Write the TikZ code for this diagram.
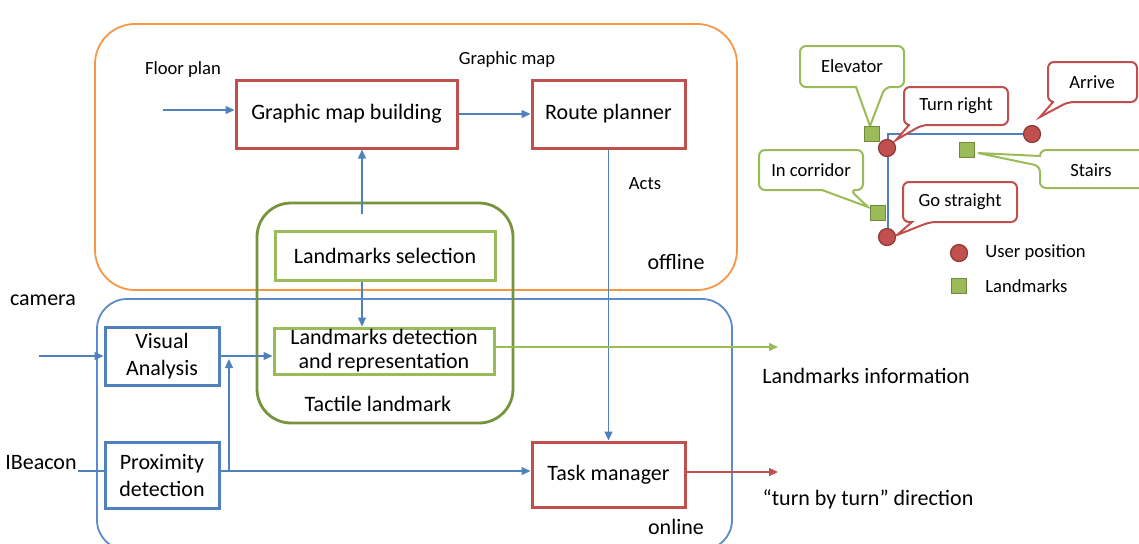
\documentclass[tikz,border=0pt]{standalone}
\usepackage{fontspec}
\setmainfont{Carlito}
\usetikzlibrary{arrows.meta}

\definecolor{cRed}{HTML}{C0504D}
\definecolor{cRedDark}{HTML}{8C3836}
\definecolor{cBlue}{HTML}{4F81BD}
\definecolor{cOuterBlue}{HTML}{5B8BC9}
\definecolor{cLGreen}{HTML}{9BBB59}
\definecolor{cGreenDark}{HTML}{71893F}
\definecolor{cDGreen}{HTML}{77933C}
\definecolor{cOrange}{HTML}{F79646}

\tikzset{
  box/.style={draw, line width=1.5pt, fill=white, align=center, inner sep=0pt,
              font=\fontsize{11}{13.5}\selectfont},
  redbox/.style={box, draw=cRed},
  bluebox/.style={box, draw=cBlue},
  grnbox/.style={box, draw=cLGreen},
  lbl/.style={inner sep=0pt, font=\fontsize{11}{13}\selectfont},
  small/.style={inner sep=0pt, font=\fontsize{9.3}{11}\selectfont},
  arr/.style={draw=cBlue, line width=0.7pt, -{Triangle[length=4.5pt,width=4pt]}},
  flow/.style={draw=cBlue, line width=0.7pt},
  callR/.style={draw=cRed, line width=1pt, fill=white},
  callG/.style={draw=cLGreen, line width=1pt, fill=white},
  usr/.style={circle, draw=cRedDark, fill=cRed, line width=0.6pt, minimum size=8.5pt, inner sep=0pt},
  lmk/.style={rectangle, draw=cGreenDark, fill=cLGreen, line width=0.6pt, minimum size=7.5pt, inner sep=0pt},
}

\begin{document}
\begin{tikzpicture}[x=0.5pt, y=-0.5pt]
\useasboundingbox (0,0) rectangle (1139,543);
\clip (0,0) rectangle (1139,543);

% ---- grouping frames ----
\draw[cOrange, line width=0.9pt, rounded corners=20pt] (95,24) rectangle (737,290);
\draw[cOuterBlue, line width=0.9pt, rounded corners=15pt] (97,299) rectangle (732,550);
\draw[cDGreen, line width=1.4pt, rounded corners=17pt] (257,203) rectangle (513,423);

% ---- process boxes ----
\node[redbox, minimum width=110.5pt, minimum height=34pt] (gmb) at (346.5,114) {Graphic map building};
\node[redbox, minimum width=76.5pt, minimum height=34pt] (rp) at (608.5,114) {Route planner};
\node[grnbox, minimum width=110pt, minimum height=24.5pt] (ls) at (385,256) {Landmarks selection};
\node[grnbox, minimum width=110pt, minimum height=23pt, font=\fontsize{11}{12}\selectfont] (det) at (384,351) {Landmarks detection\\and representation};
\node[bluebox, minimum width=57pt, minimum height=29pt] (va) at (162,356) {Visual\\Analysis};
\node[bluebox, minimum width=57pt, minimum height=33pt] (px) at (162,475) {Proximity\\detection};
\node[redbox, minimum width=76.5pt, minimum height=32.5pt] (tm) at (608.5,474.5) {Task manager};

% ---- labels ----
\node[small] (lfp) at (183,70) {Floor plan};
\node[small] (lgm) at (507,60) {Graphic map};
\node[small] (lacts) at (645,184) {Acts};
\node[lbl] (loff) at (676,262) {offline};
\node[lbl] (lon) at (676,527) {online};
\node[lbl] (ltac) at (378,404) {Tactile landmark};
\node[lbl] (lcam) at (43,300) {camera};
\node[lbl] (lib) at (41,463) {IBeacon};
\node[lbl] (lli) at (866,376) {Landmarks information};
\node[lbl] (ltbt) at (868,499) {“turn by turn” direction};

% ---- connectors ----
\coordinate (fp) at (163,110);
\draw[arr] (fp) -- (fp -| gmb.west);
\draw[arr] (gmb.east) -- (rp.west);
\coordinate (lsx) at (362,0);
\draw[arr, shorten <=8pt] (lsx |- ls.north) -- (lsx |- gmb.south);
\draw[arr] (lsx |- ls.south) -- (lsx |- det.north);
\draw[arr] (rp.south) -- (tm.north);
\coordinate (cam) at (39,356);
\draw[arr] (cam) -- (va.west);
\draw[arr] (va.east) -- (va.east -| det.west);
\coordinate (ib) at (78,471);
\draw[flow] (ib) -- (ib -| px.west);
\draw[arr] (ib -| px.east) -- (ib -| tm.west);
\coordinate (jn) at (229,471);
\coordinate (jt) at (229,359);
\draw[arr] (jn) -- (jt);
\coordinate (lmout) at (778,347);
\draw[draw=cLGreen, line width=0.7pt, -{Triangle[length=4.5pt,width=4pt]}] (lmout -| det.east) -- (lmout);
\coordinate (dirout) at (778,472);
\draw[draw=cRed, line width=0.7pt, -{Triangle[length=4.5pt,width=4pt]}] (dirout -| tm.east) -- (dirout);

% ---- route sketch ----
\coordinate (c1) at (888,134);
\coordinate (c2) at (1032,134);
\coordinate (c3) at (888,237);
\draw[cBlue, line width=0.6pt] (c2) -- (c1) -- (c3);

% callouts
\draw[callG] (852,46) [rounded corners=3pt] -- (904,46) -- (904,87) -- (885,87) [sharp corners] -- (870,126) -- (856,87) [rounded corners=3pt] -- (800,87) -- (800,46) -- cycle;
\node[small] (tel) at (852,66.5) {Elevator};
\draw[callR] (956,87) [rounded corners=3pt] -- (1008,87) -- (1008,125) -- (922,125) [sharp corners] -- (896,140) -- (909,125) [rounded corners=3pt] -- (904,125) -- (904,87) -- cycle;
\node[small] (ttr) at (956,106) {Turn right};
\draw[callR] (1092,62) [rounded corners=3pt] -- (1137,62) -- (1137,102) -- (1068,102) [sharp corners] -- (1040,117) -- (1053,102) [rounded corners=3pt] -- (1048,102) -- (1048,62) -- cycle;
\node[small] (tar) at (1092,82) {Arrive};
\draw[callG] (811,150) [rounded corners=3pt] -- (863,150) -- (863,190) -- (850,190) [sharp corners] -- (868,207) -- (822,190) [rounded corners=3pt] -- (759,190) -- (759,150) -- cycle;
\node[small] (tco) at (811,170) {In corridor};
\draw[callG] (1095,150) [rounded corners=3pt] -- (1150,150) -- (1150,188) -- (1040,188) -- (1040,166) [sharp corners] -- (978,153) -- (1040,156) [rounded corners=3pt] -- (1040,150) -- cycle;
\node[small] (tst) at (1091,170) {Stairs};
\draw[callR] (960,182) [rounded corners=3pt] -- (1017,182) -- (1017,222) -- (930,222) [sharp corners] -- (897,235) -- (912,222) [rounded corners=3pt] -- (903,222) -- (903,182) -- cycle;
\node[small] (tgs) at (960,202) {Go straight};

% markers
\node[lmk] (sqel) at (872,134) {};
\node[lmk] (sqst) at (967,150) {};
\node[lmk] (sqco) at (878,213) {};
\node[usr] (ptr) at (887,148) {};
\node[usr] (par) at (1032,134) {};
\node[usr] (pgs) at (887,237) {};

% legend
\node[usr] (legu) at (959,253) {};
\node[small, anchor=west] (legut) at (985,253) {User position};
\node[lmk] (legl) at (959,286) {};
\node[small, anchor=west] (leglt) at (985,286) {Landmarks};
\end{tikzpicture}
\end{document}
